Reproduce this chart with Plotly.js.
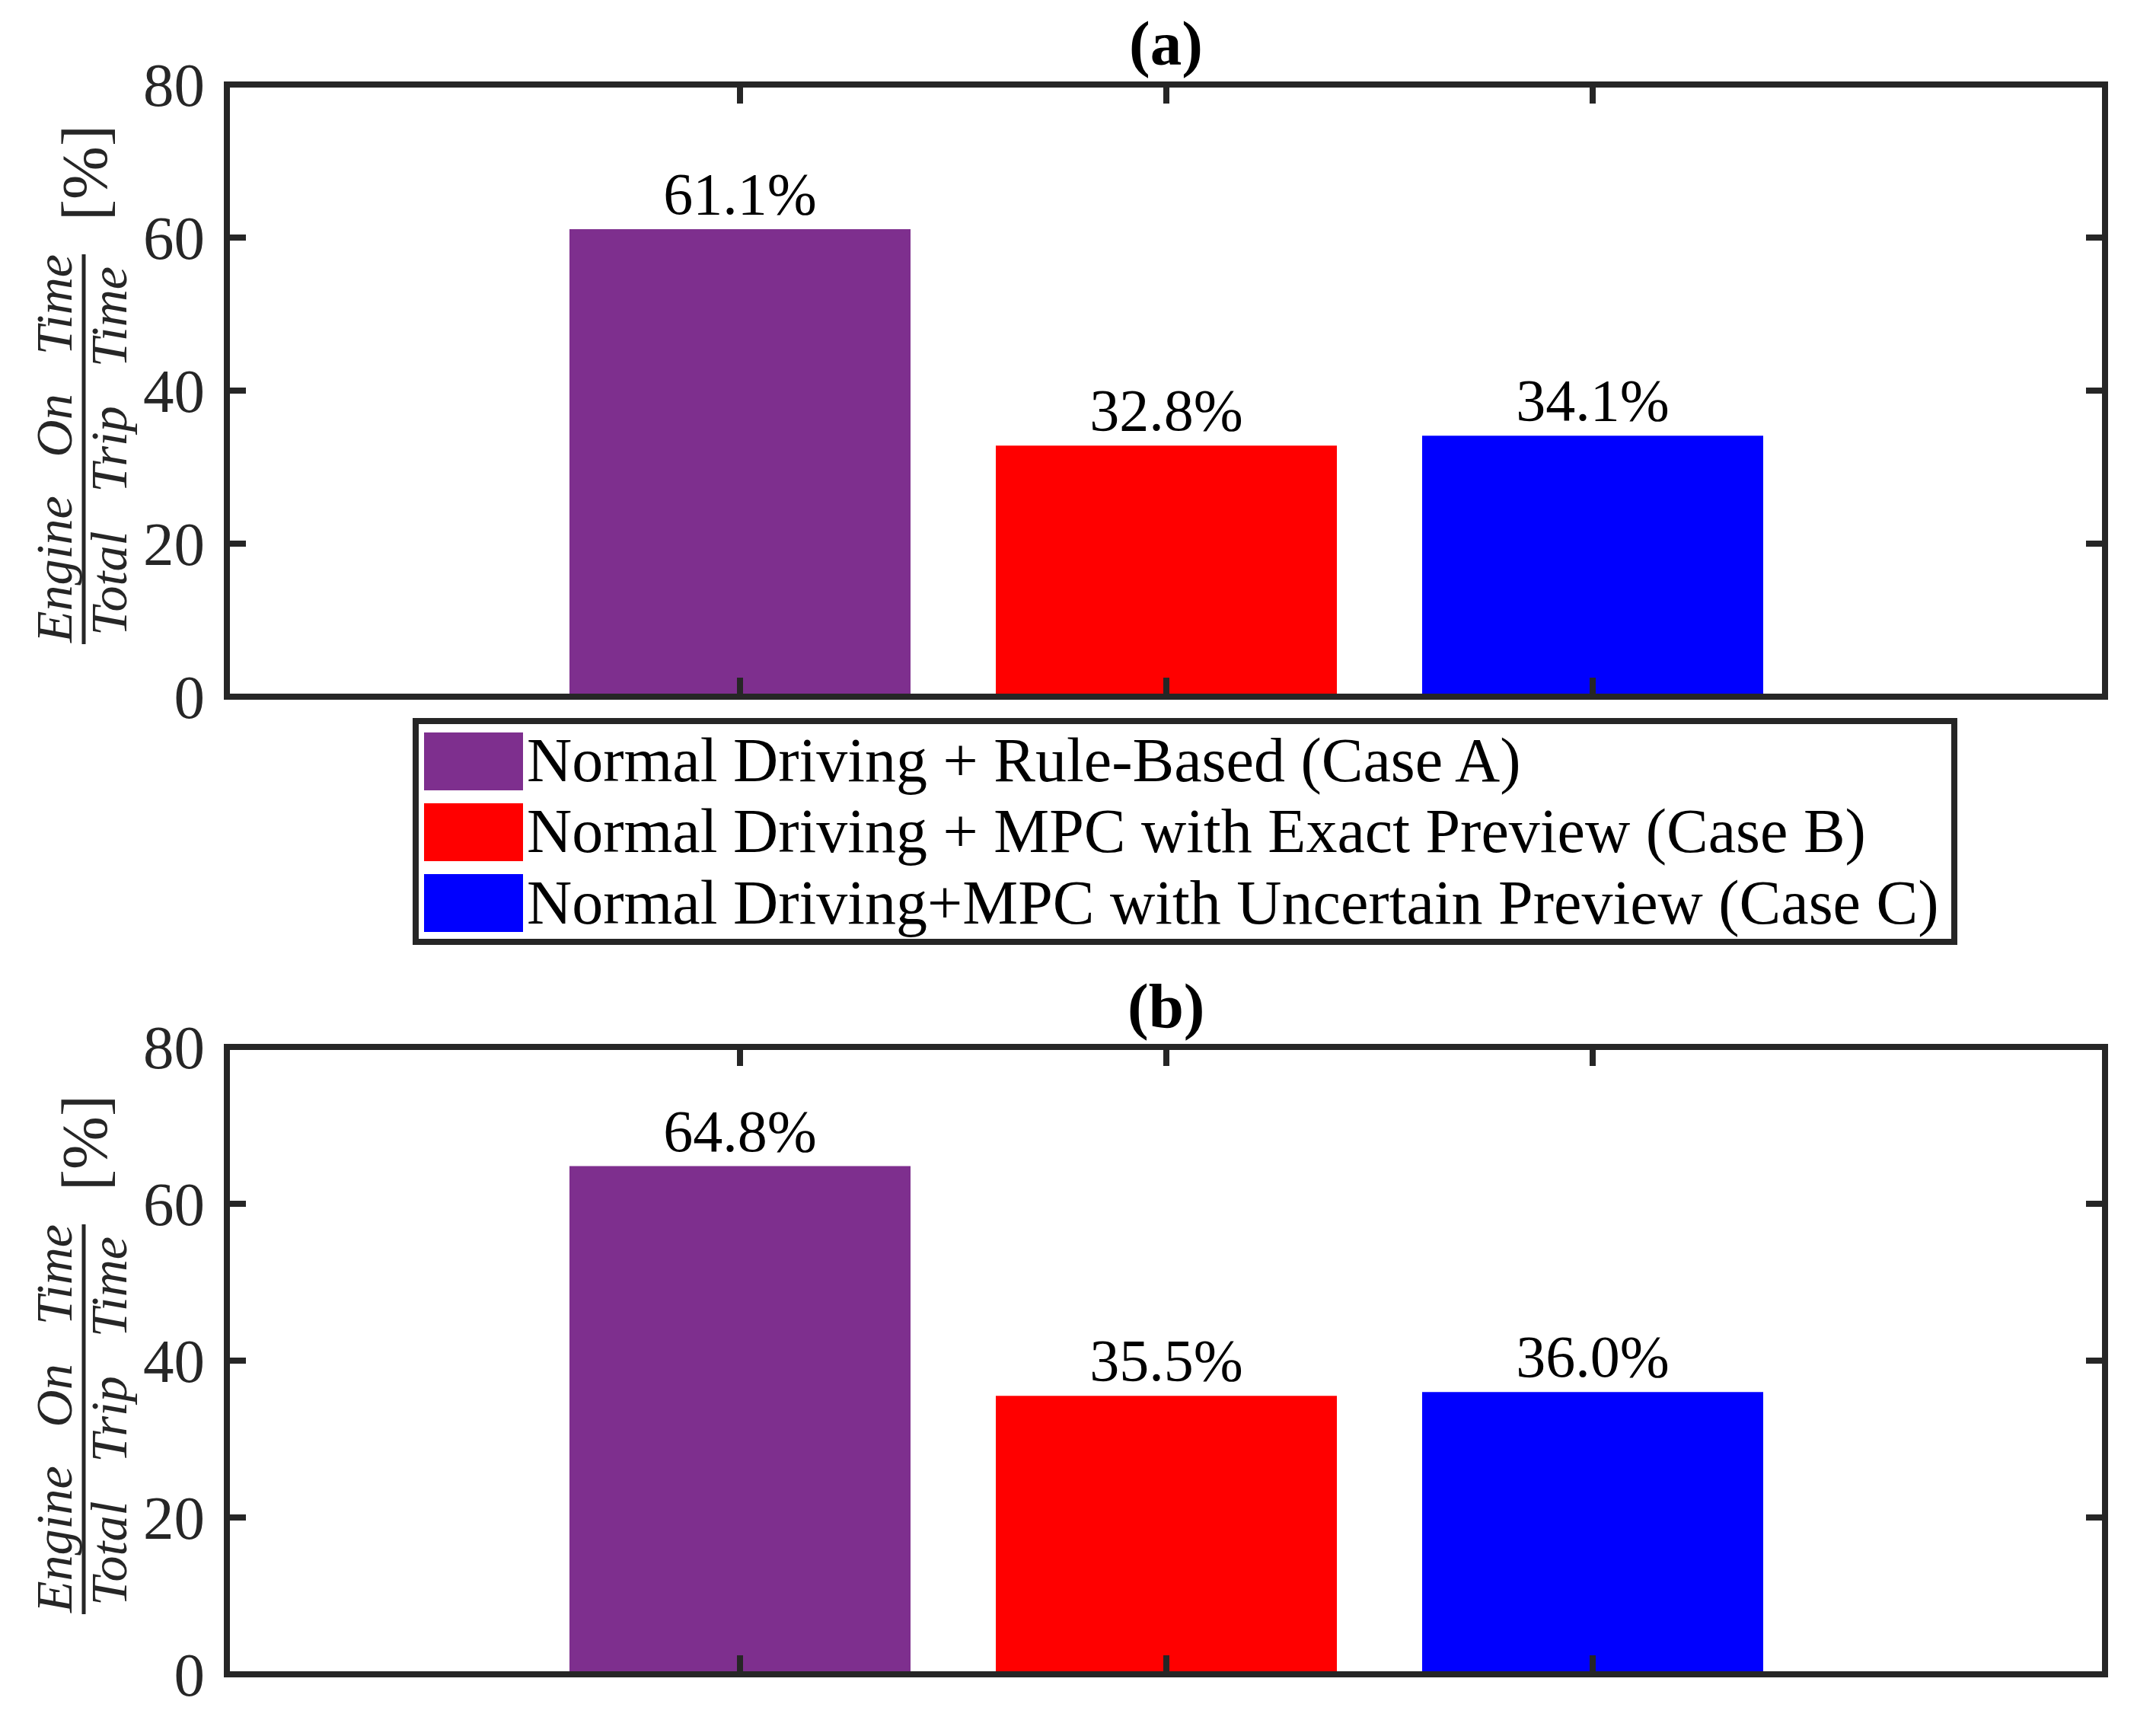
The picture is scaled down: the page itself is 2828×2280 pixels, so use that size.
<!DOCTYPE html>
<html>
<head>
<meta charset="utf-8">
<script src="https://cdn.plot.ly/plotly-3.0.1.min.js"></script>
<style>html,body{margin:0;padding:0;background:#fff;}</style>
</head>
<body>
<div id="chart" style="width:2828px;height:2280px;"></div>
<script>
// ---- data ----
const caseNames = [
  "Normal Driving + Rule-Based (Case A)",
  "Normal Driving + MPC with Exact Preview (Case B)",
  "Normal Driving+MPC with Uncertain Preview (Case C)"
];
const casePositions = [1, 2, 3];
const caseColors = ["#7E2F8E", "#FF0000", "#0000FF"];
const valuesA = [61.1, 32.8, 34.1];
const valuesB = [64.8, 35.5, 36.0];
const panelTitles = ["(a)", "(b)"];
const yTickVals = [0, 20, 40, 60, 80];
const yNumerator = "Engine On Time";
const yDenominator = "Total Trip Time";
const yUnit = "[%]";

// ---- layout helpers (pixel geometry) ----
const W = 2828, H = 2280;
const px = p => p / W;
const py = p => 1 - p / H;
const FONT = "Liberation Serif";
const AX = "#262626";
const NB = "\u00a0\u00a0\u00a0";

// frame line centres
const plotL = 298, plotR = 2765;
const panels = [
  {top: 111, bottom: 915, vals: valuesA},
  {top: 1375, bottom: 2199, vals: valuesB}
];
const pxPerCat = 560;
const xRange = [1 - (972 - plotL) / pxPerCat, 3 + (plotR - 2092) / pxPerCat];

const fmt = v => v.toFixed(1) + "%";

const traces = panels.map((p, i) => ({
  type: "bar",
  x: casePositions,
  y: p.vals,
  width: 0.8,
  name: "panel " + panelTitles[i],
  marker: {color: caseColors, line: {width: 0}},
  text: p.vals.map(fmt),
  textposition: "outside",
  cliponaxis: false,
  textfont: {family: FONT, size: 78, color: "#000"},
  hoverinfo: "skip",
  xaxis: i === 0 ? "x" : "x2",
  yaxis: i === 0 ? "y" : "y2"
}));

function xAxisDef(anchor) {
  return {
    domain: [px(plotL), px(plotR)], range: xRange, anchor: anchor,
    showline: false, mirror: "allticks",
    ticks: "inside", ticklen: 25, tickwidth: 8, tickcolor: AX,
    tickmode: "array", tickvals: casePositions, showticklabels: false,
    showgrid: false, zeroline: false, fixedrange: true
  };
}
function yAxisDef(p, anchor) {
  return {
    domain: [py(p.bottom), py(p.top)], range: [0, 80], anchor: anchor,
    showline: false, mirror: "allticks",
    ticks: "inside", ticklen: 25, tickwidth: 8, tickcolor: AX,
    tickmode: "array", tickvals: yTickVals,
    ticklabelstandoff: 28,
    tickfont: {family: FONT, size: 81, color: AX},
    showgrid: false, zeroline: false, fixedrange: true
  };
}

const annotations = [];
const shapes = [];

panels.forEach((p, i) => {
  const mid = (p.top + p.bottom) / 2;
  // axes box
  shapes.push({
    type: "rect", xref: "paper", yref: "paper", layer: "above",
    x0: px(plotL), x1: px(plotR), y0: py(p.bottom), y1: py(p.top),
    line: {color: AX, width: 8}, fillcolor: "rgba(0,0,0,0)"
  });
  // panel title
  annotations.push({
    xref: "paper", yref: "paper", x: px((plotL + plotR) / 2), y: py(p.top - 54),
    xanchor: "center", yanchor: "middle", showarrow: false,
    text: "<b>" + panelTitles[i] + "</b>",
    font: {family: FONT, size: 83, color: "#000"}
  });
  // y-axis label drawn as a fraction
  const fracMid = mid + 77;
  annotations.push({
    xref: "paper", yref: "paper", x: px(71), y: py(fracMid),
    xanchor: "center", yanchor: "middle", showarrow: false, textangle: -90,
    text: "<i>" + yNumerator.split(" ").join(NB) + "</i>",
    font: {family: FONT, size: 68, color: AX}
  });
  annotations.push({
    xref: "paper", yref: "paper", x: px(143), y: py(fracMid + 3),
    xanchor: "center", yanchor: "middle", showarrow: false, textangle: -90,
    text: "<i>" + yDenominator.split(" ").join(NB) + "</i>",
    font: {family: FONT, size: 68, color: AX}
  });
  shapes.push({
    type: "line", xref: "paper", yref: "paper",
    x0: px(110), x1: px(110), y0: py(fracMid - 256), y1: py(fracMid + 256),
    line: {color: AX, width: 5}
  });
  annotations.push({
    xref: "paper", yref: "paper", x: px(111), y: py(mid - 286),
    xanchor: "center", yanchor: "middle", showarrow: false, textangle: -90,
    text: yUnit,
    font: {family: FONT, size: 84, color: AX}
  });
});

// legend (drawn manually so the swatches match the reference size)
shapes.push({
  type: "rect", xref: "paper", yref: "paper",
  x0: px(546), x1: px(2567), y0: py(947), y1: py(1237),
  line: {color: AX, width: 8}, fillcolor: "rgba(255,255,255,0)"
});
const rowTop = [962, 1055, 1148];
caseNames.forEach((name, i) => {
  shapes.push({
    type: "rect", xref: "paper", yref: "paper",
    x0: px(557), x1: px(687), y0: py(rowTop[i]), y1: py(rowTop[i] + 76),
    line: {width: 0}, fillcolor: caseColors[i]
  });
  annotations.push({
    xref: "paper", yref: "paper", x: px(690), y: py(rowTop[i] + 37),
    xanchor: "left", yanchor: "middle", showarrow: false,
    text: name, font: {family: FONT, size: 82, color: "#000"}
  });
});

const layout = {
  width: W, height: H,
  margin: {l: 0, r: 0, t: 0, b: 0, pad: 0},
  paper_bgcolor: "#fff", plot_bgcolor: "#fff",
  showlegend: false,
  barmode: "overlay",
  font: {family: FONT, color: AX},
  xaxis: xAxisDef("y"),
  yaxis: yAxisDef(panels[0], "x"),
  xaxis2: xAxisDef("y2"),
  yaxis2: yAxisDef(panels[1], "x2"),
  annotations: annotations,
  shapes: shapes
};

Plotly.newPlot("chart", traces, layout, {displayModeBar: false, staticPlot: true});
</script>
</body>
</html>
